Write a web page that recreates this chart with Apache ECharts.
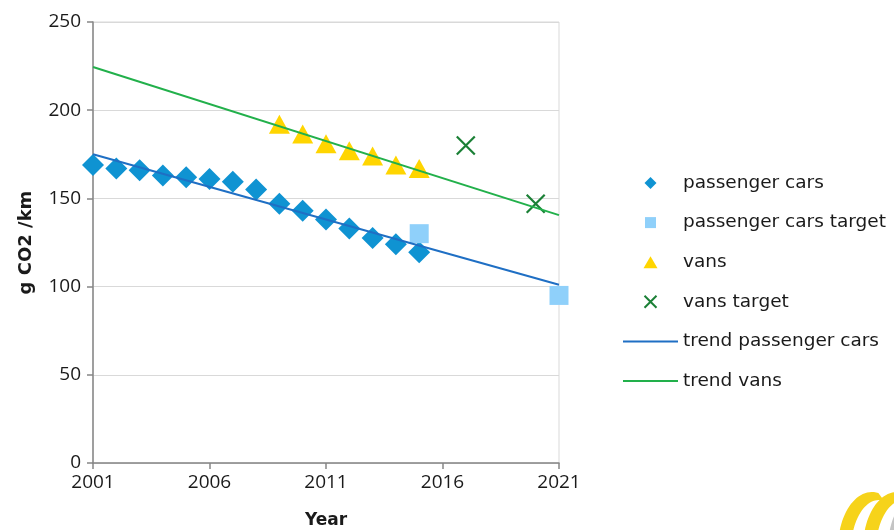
<!DOCTYPE html>
<html><head><meta charset="utf-8">
<script src="https://cdn.jsdelivr.net/npm/echarts@6/dist/echarts.min.js"></script>
<style>html,body{margin:0;padding:0;background:#fff}#c{width:894px;height:530px}</style>
</head><body><div id="c"></div>
<script>
const baseYear = 2001;
const carYears = [2001,2002,2003,2004,2005,2006,2007,2008,2009,2010,2011,2012,2013,2014,2015];
const carValues = [169,167,166,163,162,161,159.5,155,147,143,138,133,127.5,124,119.5];
const carTargetYears = [2015, 2021];
const carTargetValues = [130, 95];
const vanYears = [2009,2010,2011,2012,2013,2014,2015];
const vanValues = [192,186.5,181,177,174,169,167];
const vanTargetYears = [2017, 2020];
const vanTargetValues = [180, 147];
const carTrendYears = [2001, 2021];
const carTrendValues = [175, 101];
const vanTrendYears = [2001, 2021];
const vanTrendValues = [224.5, 140.5];
const xTickLabels = ['2001','2006','2011','2016','2021'];
const seriesNames = ['passenger cars','passenger cars target','vans','vans target','trend passenger cars','trend vans'];

function pts(years, vals){ return years.map((y,i)=>[y-baseYear, vals[i]]); }

// decorative logo crescent (bottom-right corner)
function crescent(cx, cy, rx, ry, dx, shrink){
  const p = [], a0 = Math.PI*0.72, a1 = Math.PI*1.56, n = 40;
  for(let i=0;i<=n;i++){const t=a0+(a1-a0)*i/n; p.push([cx+rx*Math.cos(t), cy+ry*Math.sin(t)]);}
  for(let i=n;i>=0;i--){const t=a0+(a1-a0)*i/n; p.push([cx+dx+(rx-shrink)*Math.cos(t), cy+2+(ry-shrink)*Math.sin(t)]);}
  return p;
}

// legend icons: padded to the 55x12 legend icon box so they are not stretched
const iconDiamond = 'path://M0,0M55,12M27.5,0L33.5,6L27.5,12L21.5,6Z';
const iconSquare = 'path://M0,0M55,12M22,0.5L33,0.5L33,11.5L22,11.5Z';
const iconTriangle = 'path://M0,0M55,12M27.5,0L34.5,12L20.5,12Z';

const chart = echarts.init(document.getElementById('c'), null, {renderer:'canvas'});
const axisFont = {fontFamily:'Open Sans', fontSize:19, color:'#1a1a1a'};
const xPath = 'path://M0,0L10,10M10,0L0,10';
const transparentItem = {color:'rgba(0,0,0,0)', borderWidth:0, opacity:0};
chart.setOption({
  animation:false,
  backgroundColor:'#fff',
  grid:{left:93,right:335,top:22,bottom:67,outerBoundsMode:'none',containLabel:false,
        show:true,borderColor:'#d9d9d9',borderWidth:1},
  legend:{
    orient:'vertical', left:622, top:173, padding:0, itemWidth:55, itemHeight:12, itemGap:19.6,
    textStyle:{fontFamily:'DejaVu Sans', fontSize:18.5, color:'#1a1a1a', lineHeight:20},
    data:[
      {name:seriesNames[0], icon:iconDiamond},
      {name:seriesNames[1], icon:iconSquare},
      {name:seriesNames[2], icon:iconTriangle},
      {name:seriesNames[3]},
      {name:seriesNames[4], itemStyle:transparentItem},
      {name:seriesNames[5], itemStyle:transparentItem}
    ]
  },
  xAxis:{
    type:'value', min:0, max:20, interval:5,
    name:'Year', nameLocation:'middle', nameGap:49,
    nameTextStyle:{fontFamily:'DejaVu Sans', fontSize:17, fontWeight:'bold', color:'#1a1a1a'},
    axisLine:{show:true, lineStyle:{color:'#868686', width:1.5}},
    axisTick:{show:true, length:6, lineStyle:{color:'#868686', width:1.5}},
    axisLabel:{...axisFont, margin:10, formatter:(v)=>xTickLabels[Math.round(v/5)]},
    splitLine:{show:false}
  },
  yAxis:{
    type:'value', min:0, max:250, interval:50,
    name:'g CO2 /km', nameLocation:'middle', nameGap:58, nameRotate:90,
    nameTextStyle:{fontFamily:'DejaVu Sans', fontSize:18, fontWeight:'bold', color:'#1a1a1a'},
    axisLine:{show:true, lineStyle:{color:'#868686', width:1.5}},
    axisTick:{show:true, length:6, lineStyle:{color:'#868686', width:1.5}},
    axisLabel:{...axisFont, margin:12},
    splitLine:{show:true, lineStyle:{color:'#d9d9d9', width:1.2}}
  },
  series:[
    {name:seriesNames[0], type:'scatter', symbol:'diamond', symbolSize:22,
     itemStyle:{color:'#0f93d2', opacity:1}, data:pts(carYears,carValues), z:2},
    {name:seriesNames[1], type:'scatter', symbol:'rect', symbolSize:19,
     itemStyle:{color:'#8fd0fa', opacity:1}, data:pts(carTargetYears,carTargetValues), z:3},
    {name:seriesNames[2], type:'scatter', symbol:'triangle', symbolSize:[21,19],
     itemStyle:{color:'#ffd500', opacity:1}, data:pts(vanYears,vanValues), z:2},
    {name:seriesNames[3], type:'scatter', symbol:xPath, symbolSize:18, symbolKeepAspect:true,
     itemStyle:{color:'rgba(0,0,0,0)', borderColor:'#1b8036', borderWidth:2.2, opacity:1}, data:pts(vanTargetYears,vanTargetValues), z:2},
    {name:seriesNames[4], type:'line', symbol:'none', lineStyle:{color:'#1f6fc4', width:2},
     itemStyle:{color:'#1f6fc4'}, data:pts(carTrendYears,carTrendValues), z:4},
    {name:seriesNames[5], type:'line', symbol:'none', lineStyle:{color:'#22b04b', width:2},
     itemStyle:{color:'#22b04b'}, data:pts(vanTrendYears,vanTrendValues), z:4}
  ],
  graphic:[
    {type:'polygon', shape:{points:crescent(872,548,34,56,7,6)}, style:{fill:'#f6d31a'}},
    {type:'polygon', shape:{points:crescent(897,548,34,56,7,6)}, style:{fill:'#f6d31a'}},
    {type:'polygon', shape:{points:crescent(922,548,34,56,7,6)}, style:{fill:'#c4c4c4'}}
  ]
});
</script></body></html>
